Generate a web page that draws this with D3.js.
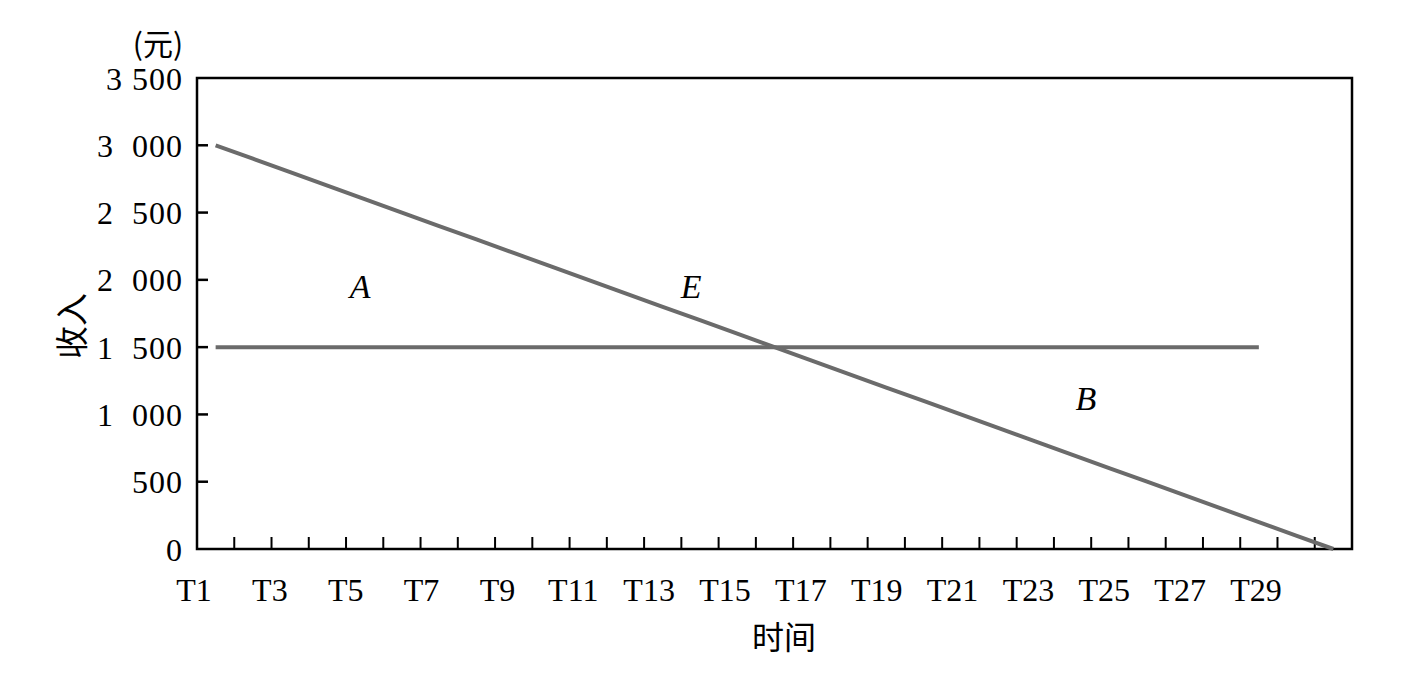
<!DOCTYPE html>
<html>
<head>
<meta charset="utf-8">
<script src="https://cdn.jsdelivr.net/npm/d3@7"></script>
<style>
  html, body { margin: 0; padding: 0; background: #fff; }
  svg { display: block; }
  text { white-space: pre; }
</style>
</head>
<body>
<script>
// ---- data ----
const periods = d3.range(1, 32).map(i => "T" + i);            // T1..T31
const xTickLabels = d3.range(1, 30, 2).map(i => "T" + i);     // T1, T3, ... T29
const yTickValues = [0, 500, 1000, 1500, 2000, 2500, 3000, 3500];
const yTickLabels = ["0", "500", "1  000", "1  500", "2  000", "2  500", "3  000", "3 500"];
const decliningIncome = [3000, 2900, 2800, 2700, 2600, 2500, 2400, 2300, 2200, 2100,
                         2000, 1900, 1800, 1700, 1600, 1500, 1400, 1300, 1200, 1100,
                         1000, 900, 800, 700, 600, 500, 400, 300, 200, 100, 0];
const fixedPeriods = d3.range(1, 30).map(i => "T" + i);        // T1..T29
const fixedIncome = fixedPeriods.map(() => 1500);
const regionLabels = [
  { text: "A", period: 4.88, value: 1865 },
  { text: "E", period: 13.76, value: 1865 },
  { text: "B", period: 24.36, value: 1033 }
];

// ---- layout ----
const W = 1413, H = 691;
const mLeft = 197, mRight = 1352, mTop = 78, mBottom = 549;

const svg = d3.select("body").append("svg").attr("width", W).attr("height", H);

// x: period index boundaries 0..31 across plot; period i centered at i - 0.5
const xIdx = d3.scaleLinear().domain([0, 31]).range([mLeft, mRight]);
const xc = p => xIdx(p - 0.5);
const y = d3.scaleLinear().domain([0, 3500]).range([mBottom, mTop]);
const xLabel = d3.scalePoint().domain(xTickLabels).range([194, 1256]);

const serif = "'Liberation Serif', 'DejaVu Serif', serif";
const cjk = "'Noto Sans CJK SC', sans-serif";

// frame
svg.append("rect")
  .attr("x", mLeft).attr("y", mTop)
  .attr("width", mRight - mLeft).attr("height", mBottom - mTop)
  .attr("fill", "none").attr("stroke", "#000").attr("stroke-width", 2.5);

// y ticks (inward)
svg.append("g").selectAll("line").data(yTickValues.slice(1, -1)).join("line")
  .attr("x1", mLeft).attr("x2", mLeft + 11)
  .attr("y1", d => y(d)).attr("y2", d => y(d))
  .attr("stroke", "#000").attr("stroke-width", 2.5);

// y tick labels
svg.append("g").selectAll("text").data(yTickValues).join("text")
  .attr("x", 183).attr("y", d => y(d))
  .attr("dy", "0.36em")
  .attr("text-anchor", "end")
  .attr("font-family", serif).attr("font-size", 32)
  .attr("letter-spacing", "1px")
  .attr("fill", "#000")
  .text((d, i) => yTickLabels[i]);

// x ticks (inward, at period boundaries)
svg.append("g").selectAll("line").data(d3.range(1, 31)).join("line")
  .attr("x1", d => xIdx(d)).attr("x2", d => xIdx(d))
  .attr("y1", mBottom).attr("y2", mBottom - 12)
  .attr("stroke", "#000").attr("stroke-width", 2);

// x tick labels
svg.append("g").selectAll("text").data(xTickLabels).join("text")
  .attr("x", d => xLabel(d)).attr("y", 601)
  .attr("text-anchor", "middle")
  .attr("font-family", serif).attr("font-size", 32)
  .attr("fill", "#000")
  .text(d => d);

// lines
const line = d3.line().x(d => xc(d[0])).y(d => y(d[1]));
svg.append("path")
  .datum(fixedIncome.map((v, i) => [i + 1, v]))
  .attr("d", line)
  .attr("fill", "none").attr("stroke", "#6b6b6b").attr("stroke-width", 4);
svg.append("path")
  .datum(decliningIncome.map((v, i) => [i + 1, v]))
  .attr("d", line)
  .attr("fill", "none").attr("stroke", "#6b6b6b").attr("stroke-width", 4);

// region labels
svg.append("g").selectAll("text").data(regionLabels).join("text")
  .attr("x", d => xc(d.period)).attr("y", d => y(d.value))
  .attr("text-anchor", "middle")
  .attr("font-family", serif).attr("font-style", "italic").attr("font-size", 34)
  .attr("fill", "#000")
  .text(d => d.text);

// axis titles
svg.append("text")
  .attr("transform", "translate(84,326) rotate(-90)")
  .attr("text-anchor", "middle")
  .attr("font-family", cjk).attr("font-size", 33)
  .attr("fill", "#000")
  .text("收入");
svg.append("text")
  .attr("x", 784).attr("y", 649)
  .attr("text-anchor", "middle")
  .attr("font-family", cjk).attr("font-size", 32)
  .attr("fill", "#000")
  .text("时间");
svg.append("text")
  .attr("x", 158).attr("y", 55)
  .attr("text-anchor", "middle")
  .attr("font-family", cjk).attr("font-size", 30)
  .attr("fill", "#000")
  .text("(元)");
</script>
</body>
</html>
